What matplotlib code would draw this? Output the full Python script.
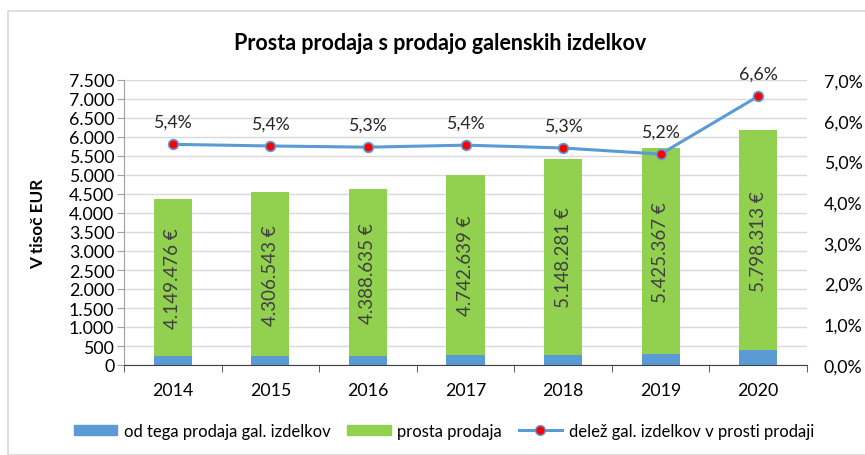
import matplotlib.pyplot as plt
import matplotlib.patches as mpatches
import matplotlib.lines as mlines
from matplotlib.ticker import FuncFormatter, MultipleLocator
import numpy as np

plt.rcParams['font.family'] = ['Lato', 'DejaVu Sans']

years = ["2014", "2015", "2016", "2017", "2018", "2019", "2020"]
prosta = [4149.476, 4306.543, 4388.635, 4742.639, 5148.281, 5425.367, 5798.313]
galenski = [225, 233, 233, 257, 274, 283, 383]
delez = [5.42, 5.38, 5.35, 5.40, 5.33, 5.18, 6.60]
bar_labels = ["4.149.476 €", "4.306.543 €", "4.388.635 €", "4.742.639 €",
              "5.148.281 €", "5.425.367 €", "5.798.313 €"]
pct_labels = ["5,4%", "5,4%", "5,3%", "5,4%", "5,3%", "5,2%", "6,6%"]

BLUE = "#5B9BD5"
GREEN = "#92D050"
FS = 12.8

fig = plt.figure(figsize=(8.65, 4.56), dpi=100)
ax = fig.add_axes([124 / 865, 1 - 366 / 456, 683 / 865, 285 / 456])

# outer border
fig.patches.append(mpatches.Rectangle((8 / 865, 0), 1, 1 - 12 / 456, transform=fig.transFigure,
                                      fill=False, edgecolor="#D9D9D9", linewidth=1.2))

x = np.arange(len(years))
ax.bar(x, galenski, width=0.39, color=BLUE, zorder=2)
ax.bar(x, prosta, width=0.39, bottom=galenski, color=GREEN, zorder=2)

for i in range(len(years)):
    ax.text(x[i], galenski[i] + prosta[i] / 2, bar_labels[i], rotation=90,
            ha="center", va="center", fontsize=13.5, color="#404040", zorder=3)

ax.set_xlim(-0.5, len(years) - 0.5)
ax.set_ylim(0, 7500)
ax.yaxis.set_major_locator(MultipleLocator(500))
ax.yaxis.set_major_formatter(FuncFormatter(lambda v, p: f"{int(v):,}".replace(",", ".")))
ax.set_xticks(x)
ax.set_xticklabels(years)
ax.set_xticks(np.arange(-0.5, len(years)), minor=True)
ax.tick_params(axis="x", which="major", length=0, labelsize=FS, pad=12)
ax.tick_params(axis="x", which="minor", length=5, color="#404040")
ax.tick_params(axis="y", length=5, labelsize=FS, color="#A0A0A0", pad=2)
ax.grid(axis="y", color="#D9D9D9", linewidth=1, zorder=0)
ax.set_axisbelow(True)
for s in ["top", "right"]:
    ax.spines[s].set_visible(False)
ax.spines["left"].set_color("#A0A0A0")
ax.spines["bottom"].set_color("#404040")
ax.set_ylabel("V tisoč EUR", fontsize=12.3, fontweight="bold")
ax.yaxis.set_label_coords((46 - 124) / 683, 0.5)

ax2 = ax.twinx()
ax2.set_ylim(0, 7)
ax2.plot(x, delez, color=BLUE, linewidth=2.2, marker="o", markersize=7,
         markerfacecolor="red", markeredgecolor=BLUE, markeredgewidth=1.2, zorder=4)
for i in range(len(years)):
    ax2.text(x[i], delez[i] + 0.36, pct_labels[i], ha="center", va="bottom",
             fontsize=FS, color="#262626")
ax2.yaxis.set_major_locator(MultipleLocator(1))
ax2.yaxis.set_major_formatter(FuncFormatter(lambda v, p: f"{v:.1f}%".replace(".", ",")))
ax2.tick_params(axis="y", length=0, labelsize=FS, pad=12)
for s in ["top", "right", "left", "bottom"]:
    ax2.spines[s].set_visible(False)

fig.text(440 / 865, 1 - 43 / 456, "Prosta prodaja s prodajo galenskih izdelkov",
         ha="center", va="center", fontsize=15.5, fontweight="bold")

handles = [
    mpatches.Patch(color=BLUE, label="od tega prodaja gal. izdelkov"),
    mpatches.Patch(color=GREEN, label="prosta prodaja"),
    mlines.Line2D([], [], color=BLUE, linewidth=2.2, marker="o", markersize=7,
                  markerfacecolor="red", markeredgecolor=BLUE,
                  label="delež gal. izdelkov v prosti prodaji"),
]
fig.legend(handles=handles, loc="center", bbox_to_anchor=(444 / 865, 1 - 432 / 456),
           ncol=3, frameon=False, fontsize=12, handlelength=2.6, handleheight=0.6,
           columnspacing=1.0, handletextpad=0.4)

fig.savefig("out.png", dpi=100)
